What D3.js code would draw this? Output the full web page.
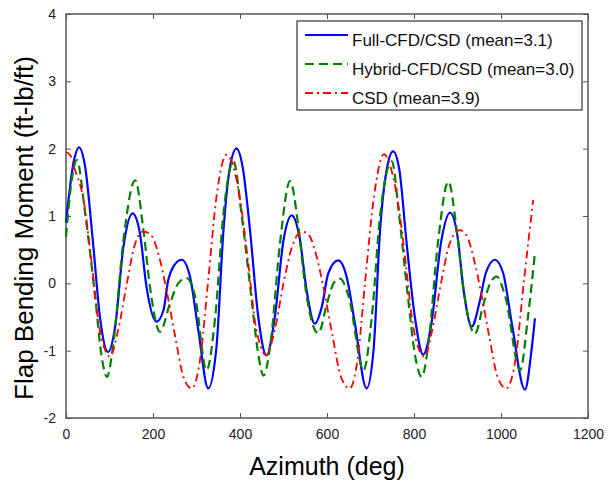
<!DOCTYPE html>
<html>
<head>
<meta charset="utf-8">
<script src="https://cdn.jsdelivr.net/npm/d3@7"></script>
<style>
  body { margin: 0; background: #fff; }
  svg { display: block; font-family: "Liberation Sans", Arial, sans-serif; }
  .tick text { fill: #222; font-size: 14px; }
  .tick line { stroke: #555; }
</style>
</head>
<body>
<svg id="chart"></svg>
<script>
// azimuth (deg) / flap bending moment pairs
const fullCfd = [
  [0, 0.9], [17, 1.78], [30, 2.02], [44, 1.73], [63, 0.54], [78, -0.5], [97, -1.02], [113, -0.64],
  [132, 0.54], [153, 1.04], [170, 0.74], [185, -0.05], [208, -0.57], [224, -0.4], [235, 0.05],
  [247, 0.25], [266, 0.35], [285, 0.1], [304, -0.69], [327, -1.56], [346, -0.94], [362, 0.79],
  [377, 1.73], [392, 2.0], [406, 1.73], [423, 0.79], [442, -0.5], [461, -1.07], [480, -0.5],
  [500, 0.64], [519, 1.01], [538, 0.64], [553, -0.1], [572, -0.6], [588, -0.35], [603, 0.15],
  [626, 0.34], [645, 0.1], [664, -0.59], [691, -1.56], [707, -0.99], [722, 0.79], [737, 1.68],
  [752, 1.96], [766, 1.7], [783, 0.6], [802, -0.5], [821, -1.06], [840, -0.6], [862, 0.6],
  [883, 1.05], [900, 0.7], [914, -0.1], [933, -0.64], [950, -0.3], [965, 0.15], [986, 0.35],
  [1005, 0.15], [1025, -0.6], [1055, -1.58], [1070, -1.0], [1078, -0.52]
];
const hybridCfd = [
  [0, 0.69], [13, 1.53], [25, 1.83], [44, 1.04], [67, -0.2], [82, -1.09], [94, -1.39], [109, -0.89],
  [132, 0.64], [159, 1.53], [178, 0.79], [193, -0.05], [216, -0.72], [239, -0.3], [258, 0.0],
  [277, 0.08], [297, -0.2], [323, -1.29], [343, -0.5], [362, 1.04], [385, 1.81], [404, 1.0],
  [426, -0.2], [442, -1.05], [454, -1.37], [470, -0.9], [492, 0.6], [515, 1.52], [535, 0.8],
  [550, -0.05], [580, -0.74], [600, -0.3], [615, 0.0], [630, 0.07], [650, -0.2], [684, -1.29],
  [703, -0.5], [722, 1.0], [749, 1.81], [766, 1.0], [786, -0.2], [803, -1.09], [818, -1.39],
  [833, -0.9], [855, 0.6], [879, 1.51], [898, 0.8], [913, -0.05], [940, -0.75], [960, -0.3],
  [975, 0.0], [990, 0.1], [1010, -0.2], [1044, -1.29], [1062, -0.5], [1078, 0.45]
];
const csd = [
  [0, 1.95], [10, 1.9], [20, 1.7], [40, 1.25], [59, 0.3], [74, -0.55], [90, -0.99], [101, -1.09],
  [120, -0.69], [140, 0.0], [159, 0.59], [178, 0.77], [195, 0.72], [216, 0.35], [231, -0.1],
  [251, -0.79], [270, -1.39], [289, -1.56], [308, -1.14], [327, 0.05], [346, 1.29], [369, 1.91],
  [385, 1.73], [400, 1.25], [419, 0.3], [434, -0.55], [448, -0.95], [460, -1.07], [480, -0.69],
  [500, 0.0], [520, 0.55], [542, 0.77], [558, 0.72], [578, 0.35], [593, -0.1], [613, -0.79],
  [632, -1.39], [652, -1.56], [670, -1.14], [688, 0.05], [708, 1.29], [731, 1.92], [746, 1.73],
  [762, 1.25], [781, 0.3], [796, -0.55], [812, -0.99], [824, -1.09], [842, -0.69], [862, 0.0],
  [882, 0.59], [905, 0.79], [920, 0.72], [938, 0.35], [953, -0.1], [973, -0.79], [992, -1.39],
  [1012, -1.56], [1033, -1.14], [1053, 0.05], [1074, 1.24]
];

const seriesNames = ["Full-CFD/CSD (mean=3.1)", "Hybrid-CFD/CSD (mean=3.0)", "CSD (mean=3.9)"];
const xTicks = [0, 200, 400, 600, 800, 1000, 1200];
const yTicks = [-2, -1, 0, 1, 2, 3, 4];

const width = 608, height = 484;
const plotLeft = 66, plotRight = 588, plotTop = 14, plotBottom = 418;

const svg = d3.select("#chart").attr("width", width).attr("height", height);

const x = d3.scaleLinear().domain([0, 1200]).range([plotLeft, plotRight]);
const y = d3.scaleLinear().domain([-2, 4]).range([plotBottom, plotTop]);
const fmt = d => String(d); // plain hyphen like matlab

// axes with inward ticks on all four sides (matlab box)
svg.append("g").attr("transform", `translate(0,${plotBottom})`)
  .call(d3.axisBottom(x).tickValues(xTicks).tickFormat(fmt).tickSizeInner(-5).tickSizeOuter(0).tickPadding(11))
  .call(g => g.select(".domain").remove());
svg.append("g").attr("transform", `translate(0,${plotTop})`)
  .call(d3.axisTop(x).tickValues(xTicks).tickSizeInner(-5).tickSizeOuter(0).tickFormat(""))
  .call(g => g.select(".domain").remove());
svg.append("g").attr("transform", `translate(${plotLeft},0)`)
  .call(d3.axisLeft(y).tickValues(yTicks).tickFormat(fmt).tickSizeInner(-5).tickSizeOuter(0).tickPadding(10))
  .call(g => g.select(".domain").remove());
svg.append("g").attr("transform", `translate(${plotRight},0)`)
  .call(d3.axisRight(y).tickValues(yTicks).tickSizeInner(-5).tickSizeOuter(0).tickFormat(""))
  .call(g => g.select(".domain").remove());

svg.append("rect")
  .attr("x", plotLeft).attr("y", plotTop)
  .attr("width", plotRight - plotLeft).attr("height", plotBottom - plotTop)
  .attr("fill", "none").attr("stroke", "#555").attr("stroke-width", 1.5);

const line = d3.line()
  .x(d => x(d[0]))
  .y(d => y(d[1]))
  .curve(d3.curveMonotoneX);

const styles = [
  { data: fullCfd, color: "#0000ff", dash: null, w: 2.2 },
  { data: hybridCfd, color: "#008000", dash: "9,5", w: 2.2 },
  { data: csd, color: "#ff0000", dash: "8,4,2,4", w: 1.8 }
];

styles.forEach(s => {
  svg.append("path")
    .datum(s.data)
    .attr("d", line)
    .attr("fill", "none")
    .attr("stroke", s.color)
    .attr("stroke-width", s.w)
    .attr("stroke-dasharray", s.dash);
});

// legend
const legend = svg.append("g");
legend.append("rect")
  .attr("x", 297).attr("y", 21).attr("width", 285).attr("height", 89)
  .attr("fill", "#fff").attr("stroke", "#333").attr("stroke-width", 1.2);

styles.forEach((s, i) => {
  const ly = 35 + i * 29;
  legend.append("line")
    .attr("x1", 305).attr("x2", 348).attr("y1", ly).attr("y2", ly)
    .attr("stroke", s.color).attr("stroke-width", s.w)
    .attr("stroke-dasharray", s.dash);
  legend.append("text")
    .attr("x", 352).attr("y", ly + 11)
    .attr("font-size", 17).attr("fill", "#111")
    .text(seriesNames[i]);
});

// axis titles
svg.append("text")
  .attr("x", (plotLeft + plotRight) / 2).attr("y", 475)
  .attr("text-anchor", "middle").attr("font-size", 25).attr("fill", "#000")
  .text("Azimuth (deg)");

svg.append("text")
  .attr("transform", `translate(33,${(plotTop + plotBottom) / 2 + 12}) rotate(-90)`)
  .attr("text-anchor", "middle").attr("font-size", 26).attr("fill", "#000")
  .text("Flap Bending Moment (ft-lb/ft)");
</script>
</body>
</html>
